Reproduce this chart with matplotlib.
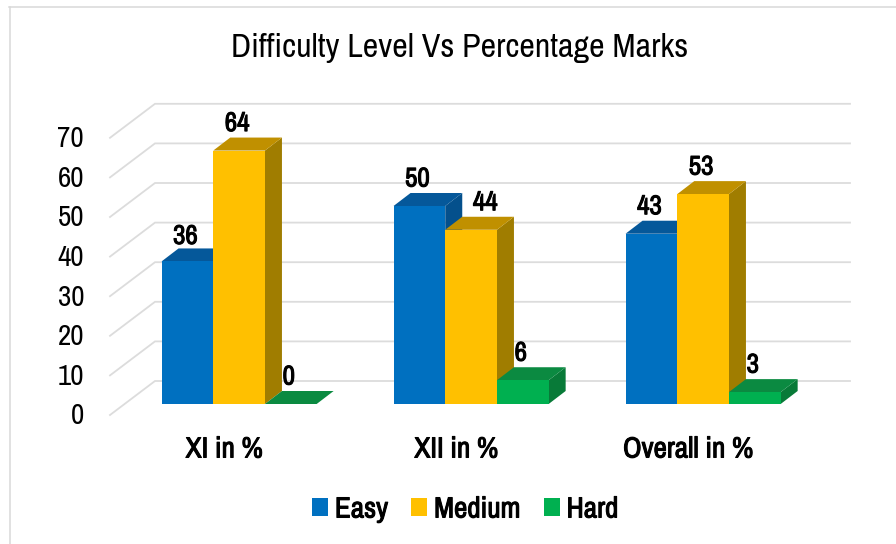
import matplotlib
matplotlib.use("Agg")
import matplotlib.pyplot as plt
from matplotlib.patches import Polygon, Patch
from matplotlib.lines import Line2D
from matplotlib import font_manager as fm
import matplotlib.patheffects as pe

FONT = ["Archivo Narrow", "Roboto Condensed", "Liberation Sans Narrow", "Liberation Sans"]
BOLD = [pe.withStroke(linewidth=0.75, foreground="black")]

title = "Difficulty Level Vs Percentage Marks"
categories = ["XI in %", "XII in %", "Overall in %"]
series_names = ["Easy", "Medium", "Hard"]
easy = [36, 50, 43]
medium = [64, 44, 53]
hard = [0, 6, 3]
y_ticks = [0, 10, 20, 30, 40, 50, 60, 70]

W, H = 896, 544
PX_X = 232.0      # pixels per category
PX_Y = 3.96       # pixels per percentage point
X0_PX, Y0_PX = 239.1, 404.0

fig = plt.figure(figsize=(W / 100, H / 100), dpi=100, facecolor="white")
ax = fig.add_axes([0, 0, 1, 1])
ax.set_xlim((0 - X0_PX) / PX_X, (W - X0_PX) / PX_X)
ax.set_ylim((Y0_PX - H) / PX_Y, Y0_PX / PX_Y)
ax.axis("off")

# depth geometry (pixels converted into data units)
bar_w = 51.7 / PX_X
dx, dy = 17.0 / PX_X, 13.0 / PX_Y
front_dy = -11.0 / PX_Y
back_dy = 23.0 / PX_Y
front_x = (110 - X0_PX) / PX_X
back_x = (155 - X0_PX) / PX_X
right_x = (850 - X0_PX) / PX_X
GRID = "#dcdcdc"

for v in y_ticks:
    ax.plot([front_x, back_x, right_x], [v + front_dy, v + back_dy, v + back_dy],
            color=GRID, lw=1.3, zorder=1, solid_joinstyle="miter")
    ax.text((84 - X0_PX) / PX_X, v + front_dy - 1 / PX_Y, str(v), ha="right", va="center",
            fontsize=21, family=FONT, color="black", zorder=50)

colors = ["#0070C0", "#FFC000", "#00B050"]
tops = ["#05589A", "#C09000", "#0B8A41"]
sides = ["#04508C", "#A07D00", "#087A38"]
all_series = [easy, medium, hard]
label_nudge_px = {(1, 1): (16, 0), (0, 0): (0, -2)}

z = 2
for i in range(len(categories)):
    for s, vals in enumerate(all_series):
        v = vals[i]
        x = i + (s - 1) * bar_w
        l, r = x - bar_w / 2, x + bar_w / 2
        ax.bar(x, v, width=bar_w, color=colors[s], zorder=z + 0.2, linewidth=0)
        ax.add_patch(Polygon([(r, 0), (r + dx, dy), (r + dx, v + dy), (r, v)],
                             closed=True, fc=sides[s], ec="none", zorder=z))
        ax.add_patch(Polygon([(l, v), (l + dx, v + dy), (r + dx, v + dy), (r, v)],
                             closed=True, fc=tops[s], ec="none", zorder=z + 0.1))
        z += 1
        nx, ny = label_nudge_px.get((i, s), (0, 0))
        ax.text(x + (nx - 2) / PX_X, v + (27 + ny) / PX_Y, str(v), ha="center", va="center",
                fontsize=19.5, family=FONT, color="black", zorder=60, path_effects=BOLD)

for i, c in enumerate(categories):
    ax.text(i - 15 / PX_X, (Y0_PX - 449) / PX_Y, c, ha="center", va="center",
            fontsize=21, family=FONT, color="black", zorder=60, path_effects=BOLD)

fig.text(460 / W, 1 - 48 / H, title, ha="center", va="center",
         fontsize=24.5, family=FONT, color="black")

handles = [Patch(fc=col, ec="none", label=n) for col, n in zip(colors, series_names)]
leg = fig.legend(handles=handles, loc="center", bbox_to_anchor=(465 / W, 1 - 509 / H),
                 ncol=3, frameon=False, handlelength=0.55, handleheight=0.55,
                 handletextpad=0.24, columnspacing=0.79, borderpad=0, borderaxespad=0,
                 prop=fm.FontProperties(family=FONT, size=21))
for t in leg.get_texts():
    t.set_path_effects(BOLD)

BORDER = "#d9d9d9"
fig.add_artist(Line2D([9 / W, 1], [1 - 6.5 / H, 1 - 6.5 / H], color=BORDER, lw=1.1))
fig.add_artist(Line2D([9.5 / W, 9.5 / W], [0, 1 - 6.5 / H], color=BORDER, lw=1.1))

fig.savefig("out.png", dpi=100)
